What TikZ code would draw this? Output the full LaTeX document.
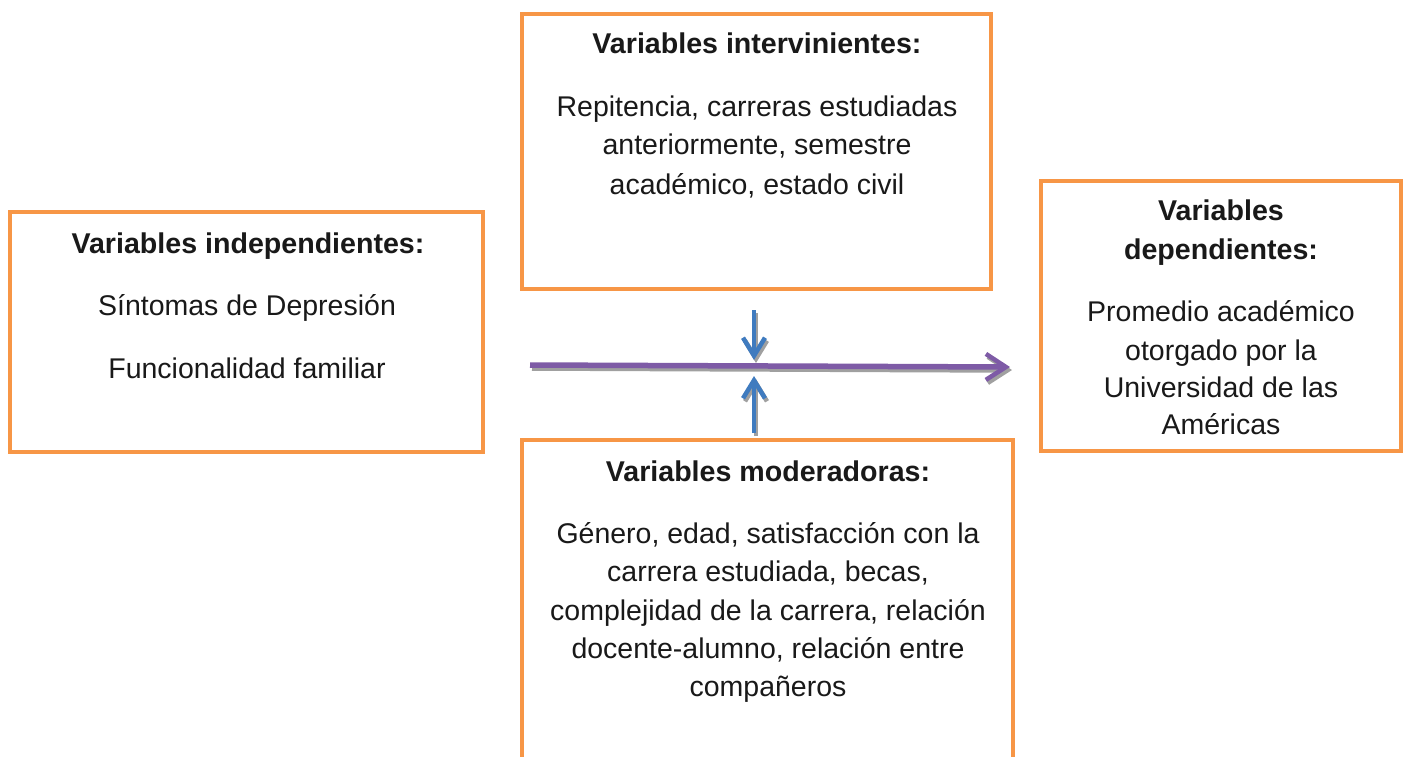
\documentclass[tikz,border=0pt]{standalone}
\usepackage{fontspec}
\setmainfont{Liberation Sans}
\usetikzlibrary{arrows.meta}
\definecolor{boxorange}{HTML}{F79646}
\definecolor{arrpurple}{HTML}{7E5BA6}
\definecolor{arrblue}{HTML}{3F7BBF}
\definecolor{shadowgray}{HTML}{A0A0A0}
\tikzset{
  vbox/.style={draw=boxorange, line width=4pt, fill=white},
  txt/.style={anchor=base, inner sep=0pt, font=\fontsize{28.5}{34}\selectfont, text=black!90},
  ttl/.style={txt, font=\fontsize{28.6}{34}\selectfont\bfseries},
  purplearrow/.style={draw=arrpurple, line width=5.5pt, -{Straight Barb[length=20pt,width=26pt,line width=4.5pt]}},
  bluearrow/.style={draw=arrblue, line width=4.5pt, -{Straight Barb[length=18pt,width=22pt,line width=4.5pt]}},
  shadowarrow/.style={draw=shadowgray, line width=4.5pt, -{Straight Barb[length=18pt,width=22pt,line width=4.5pt]}},
  shadowparrow/.style={draw=shadowgray, line width=5.5pt, -{Straight Barb[length=20pt,width=26pt,line width=4.5pt]}},
}
\begin{document}
\begin{tikzpicture}[x=1pt,y=-1pt]
\useasboundingbox (0,0) rectangle (1405,756);
% boxes
\draw[vbox] (10,212) rectangle (483,452) node[pos=0.5,inner sep=0pt] (ind) {};
\draw[vbox] (522,14) rectangle (991,289) node[pos=0.5,inner sep=0pt] (int) {};
\draw[vbox] (1041,181) rectangle (1401,451) node[pos=0.5,inner sep=0pt] (dep) {};
\draw[vbox] (522,440) rectangle (1013,790) node[pos=0.5,inner sep=0pt] (mod) {};
% left texts
\node[ttl] (t1) at (248,253) {Variables independientes:};
\node[txt] (t1a) at (247,315) {Síntomas de Depresión};
\node[txt] (t1b) at (247,378) {Funcionalidad familiar};
% top texts
\node[ttl] (t2) at (757,53) {Variables intervinientes:};
\node[txt] (t2a) at (757,116) {Repitencia, carreras estudiadas};
\node[txt] (t2b) at (757,154) {anteriormente, semestre};
\node[txt] (t2c) at (757,194) {académico, estado civil};
% right texts
\node[ttl] (t3) at (1221,220) {Variables};
\node[ttl] (t3a) at (1221,259) {dependientes:};
\node[txt] (t3b) at (1221,321) {Promedio académico};
\node[txt] (t3c) at (1221,360) {otorgado por la};
\node[txt] (t3d) at (1221,397) {Universidad de las};
\node[txt] (t3e) at (1221,434) {Américas};
% bottom texts
\node[ttl] (t4) at (768,481) {Variables moderadoras:};
\node[txt] (t4a) at (768,543) {Género, edad, satisfacción con la};
\node[txt] (t4b) at (768,581) {carrera estudiada, becas,};
\node[txt] (t4c) at (768,620) {complejidad de la carrera, relación};
\node[txt] (t4d) at (768,658) {docente-alumno, relación entre};
\node[txt] (t4e) at (768,696) {compañeros};
% arrow coordinates
\coordinate (hs) at (530,365);
\coordinate (he) at (1010,367);
\coordinate (ds) at (754,310);
\coordinate (de) at (754,360);
\coordinate (us) at (754,433);
\coordinate (ue) at (754,376);
% shadows
\draw[shadowparrow] ([shift={(2,3)}]hs) -- ([shift={(2,3)}]he);
\draw[shadowarrow] ([shift={(2,3)}]ds) -- ([shift={(2,3)}]de);
\draw[shadowarrow] ([shift={(2,3)}]us) -- ([shift={(2,3)}]ue);
% arrows
\draw[purplearrow] (hs) -- (he);
\draw[bluearrow] (ds) -- (de);
\draw[bluearrow] (us) -- (ue);
\end{tikzpicture}
\end{document}
